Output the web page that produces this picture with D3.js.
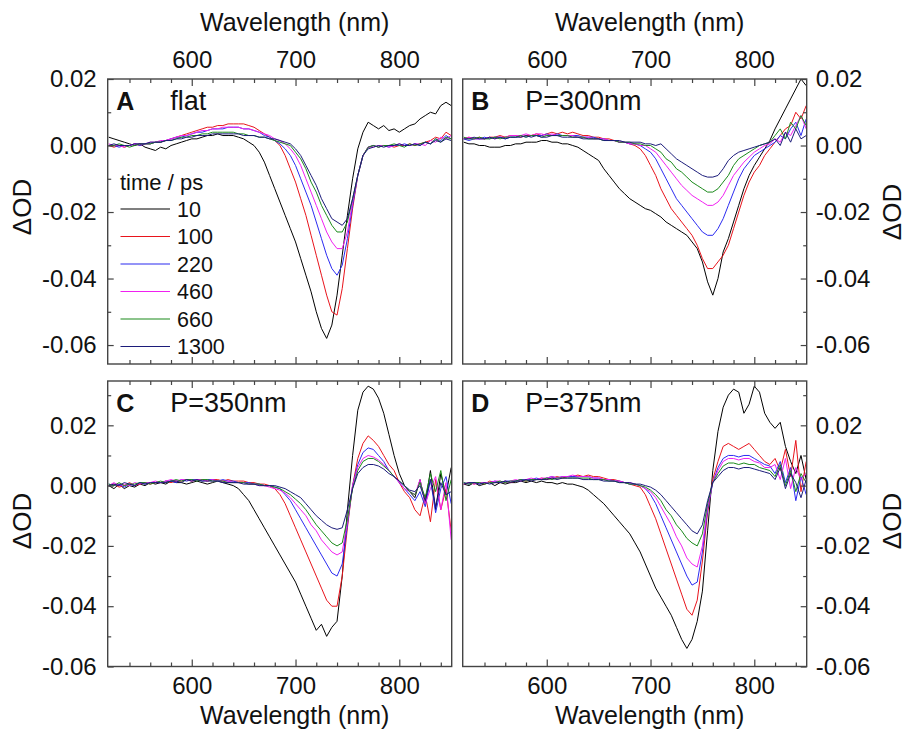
<!DOCTYPE html>
<html>
<head>
<meta charset="utf-8">
<script src="https://cdn.jsdelivr.net/npm/d3@7"></script>
<style>
body { margin: 0; background: #fff; }
text { font-family: Arial, "Liberation Sans", sans-serif; fill: #111; }
</style>
</head>
<body>
<div id="chart"></div>
<script>
// wavelength grid in nm; all spectra below are in mOD (1e-3 dOD)
var wavelengths = d3.range(520, 851, 5);
var times = ["10", "100", "220", "460", "660", "1300"];
var colors = ["#000000", "#e8141c", "#2b2bf0", "#f020f0", "#1b8a1b", "#1c1c7a"];
var xMajor = [600, 700, 800];
var xMinor = [540, 560, 580, 620, 640, 660, 680, 720, 740, 760, 780, 820, 840];
var yMajor = [-0.06, -0.04, -0.02, 0, 0.02];
var yMinor = [-0.05, -0.03, -0.01, 0.01, 0.03];

// A: flat
var flat_10 = [2.5,2,1.5,1,0.5,0,0.5,-0.5,-1,-1.5,
  -0.5,-1,0,0.5,1,1.5,2,2,2.5,3,
  3,3.5,3,3,3,2.5,2,1,0,-2,
  -5,-9,-13,-17,-21,-25,-29,-34,-39,-44,
  -50,-55,-58,-54,-45,-33,-21,-10,-1,4,
  7,6,5,6,4.5,5,4,5,6,6.5,
  8,9,10,9.5,12,13,12];
var flat_100 = [0,-0.5,0,-0.5,0,0.5,0,0.5,0.5,1,
  1,1.5,2,2.5,3,3.5,4,4.5,5,5.5,
  5.5,6,6,6.5,6.5,6.5,6.5,6,5.5,4.5,
  3.5,2.5,1.5,0,-3,-7,-11,-16,-21,-27,
  -33,-39,-45,-50,-51,-43,-31,-19,-9,-3,
  -0.5,0,-0.5,0,0,-0.5,0,0,0.5,0,
  0.5,1,1.5,2.5,2,4,3];
var flat_220 = [0,0,-0.5,0,0,0.5,0,0.5,0.5,1,
  1,1.5,2,2.5,2.5,3,3.5,4,4,4.5,
  5,5,5,5.5,5.5,5.5,5,5,4.5,4,
  3,2.5,1.5,0.5,-1,-3,-6,-10,-14,-18,
  -23,-28,-33,-37,-39,-36,-28,-18,-9,-3,
  -0.5,0,-0.5,0,-0.5,0,0,0.5,0,0.5,
  0,1,0.5,2,1.5,3,2];
var flat_460 = [0.5,0,0,-0.5,0,0.5,0.5,0.5,1,1,
  1.5,1.5,2,2.5,3,3,3.5,4,4.5,4.5,
  5,5,5.5,5.5,5.5,5.5,5,5,4.5,4,
  3.5,3,2,1.5,0.5,-1,-3,-6,-10,-14,
  -18,-22,-26,-29,-31,-31,-26,-17,-9,-3,
  -0.5,-0.5,0,0,-0.5,0,0.5,0,0,0.5,
  0.5,0,1.5,1,2.5,2,3];
var flat_660 = [0,0,0.5,0,-0.5,0,0.5,0.5,0.5,1,
  1,1.5,1.5,2,2.5,2.5,3,3,3.5,3.5,
  4,4,4,4,4,3.5,3.5,3,3,2.5,
  2.5,2,1.5,1,0.5,0,-2,-4,-7,-11,
  -14,-18,-21,-24,-26,-26,-23,-16,-9,-3,
  -0.5,0,-0.5,0,0,0.5,0,-0.5,0.5,0,
  0.5,1,0.5,2,1,2.5,2];
var flat_1300 = [0,0.5,0,0,0,0.5,0.5,0.5,1,1,
  1,1.5,1.5,2,2,2.5,2.5,3,3,3,
  3.5,3.5,3.5,3.5,3.5,3.5,3,3,3,2.5,
  2.5,2,2,1.5,1,0.5,-1,-3,-6,-9,
  -12,-16,-19,-22,-23,-24,-22,-16,-9,-3,
  -1,-0.5,0,-0.5,0,0,0.5,0,0,0.5,
  0,1,0.5,1.5,1,2,1.5];

// B: P=300nm
var p300_10 = [1,0.5,0.5,0,0,-0.5,-0.5,-0.5,0,0,
  0.5,0.5,1,1,1,1.5,1.5,1,1,0.5,
  0.5,0,-0.5,-1.5,-2.5,-3.5,-4.5,-7,-9,-11,
  -13,-14.5,-16,-17,-18,-19,-19.5,-20.5,-21.5,-23,
  -24,-25,-26,-27,-29,-31,-35,-41,-45,-40,
  -32,-28,-23,-18,-13,-9,-6,-3.5,-1,1.5,
  5,8,11,14,17,20,18];
var p300_100 = [2,2.5,2,2.5,2,2.5,2.5,3,2.5,3,
  3,2.5,3,3,3.5,3,3.5,4,3.5,4,
  3.5,4,3.5,3,3,2.5,2.5,2,2,1.5,
  1,1,0.5,0,-1,-3,-6,-9,-13,-16,
  -19,-21,-23,-25,-27,-30,-34,-37,-37,-35,
  -33,-30,-25,-20,-15,-11,-8,-6,-3,-1,
  1,3,5,6,10,8,12];
var p300_220 = [2,1.5,2,2,2.5,2,2.5,2.5,2,2.5,
  2.5,3,2.5,3,3,3,3.5,3,3.5,3,
  3,3,3,2.5,2.5,2.5,2,2,1.5,1.5,
  1,1,0.5,0.5,0,-1,-2,-4,-7,-10,
  -13,-16,-18,-20,-22,-24,-26,-27,-27,-25,
  -22,-18,-14,-10,-7,-5,-3,-2,-1,0,
  1,3,2,5,7,3,8];
var p300_460 = [2,2.5,2,2,2,2.5,2,2.5,2.5,3,
  3,3,3.5,3,3.5,3.5,3,3.5,3,3,
  3,3,2.5,2.5,2.5,2,2,2,1.5,1.5,
  1,1,0.5,0.5,0,0,-1,-2,-4,-6,
  -8,-10,-12,-13.5,-15,-16,-17,-18,-18,-17,
  -15,-12,-9,-7,-5,-3.5,-2,-1,0,0.5,
  2,1,4,3,6,9,5];
var p300_660 = [2.5,2,2,2.5,2,2,2.5,2,2.5,2.5,
  2.5,3,2.5,3,3,2.5,3,3,3,3,
  3,2.5,2.5,2.5,2,2,2,1.5,1.5,1.5,
  1,1,1,0.5,0.5,0,0,-1,-2,-4,
  -5,-7,-8,-9.5,-11,-12,-13,-14,-14,-13,
  -11,-9,-6,-4,-3,-2,-1,0,0.5,1,
  3,5,2,7,5,9,6];
var p300_1300 = [2,2,2.5,2,2,2.5,2,2.5,2,2.5,
  2.5,2.5,3,2.5,3,2.5,2.5,3,3,2.5,
  2.5,2.5,2.5,2,2,2,2,1.5,1.5,1.5,
  1.5,1,1,1,1,0.5,0.5,0,0.5,-1,
  -2.5,-4,-5,-6,-7,-8,-9,-9.5,-9.5,-9,
  -7,-4.5,-3,-2,-1.5,-1,-0.5,0,0.5,1,
  2,0,4,1,5,2,3];

// C: P=350nm
var p350_10 = [0,-1,0.5,-1,0,-0.5,0.5,0,1,0.5,
  1,0.5,1.5,1,1,0.5,1,1.5,1,0.5,
  1,1.5,1,0.5,0,-1,-3,-5,-8,-11,
  -14,-17,-20,-23,-26,-29,-32,-36,-40,-44,
  -48,-46,-50,-47,-45,-30,-8,10,25,31,
  33,32,29,24,17,10,4,0,-2,-4,
  2,-6,5,-8,4,-3,6];
var p350_100 = [0,0.5,-0.5,0,1,0,0.5,1,0.5,1,
  1,1.5,1,1.5,1.5,2,1.5,2,2,1.5,
  2,2,1.5,2,1.5,1.5,1.5,1,1,0.5,
  0.5,0,-1,-3,-6,-10,-14,-18,-22,-26,
  -30,-34,-38,-40,-40,-30,-14,0,9,14,
  16.5,15,13,10,7,5,1,-2,-4,-8,
  -10,-3,-12,2,-8,-1,-15];
var p350_220 = [0.5,0,0.5,-0.5,0.5,0,1,0.5,1,1,
  1,1.5,1.5,1,2,1.5,2,2,1.5,2,
  2,1.5,2,1.5,1.5,1,1,1,0.5,0.5,
  0,0,-0.5,-1,-3,-5,-8,-11,-14,-17,
  -20,-23,-26,-29,-30,-26,-13,0,7,11,
  12.5,12,10,8,5,3,1,-1,-3,-5,
  -2,-7,2,-9,-1,3,-6];
var p350_460 = [0,1,0,0.5,0,1,0.5,1,1,1.5,
  1,1.5,2,1.5,2,2,1.5,2,2,1.5,
  2,1.5,1.5,1.5,1,1,1,0.5,0.5,0,
  0,-0.5,-1,-1.5,-2.5,-4,-6,-8,-10,-13,
  -15,-18,-20,-22,-23,-22,-12,0,6,9,
  10,9.5,8.5,7,5,3,1,-1,-2,-3,
  2,-6,-1,3,-8,1,-18];
var p350_660 = [0.5,0,1,0,0.5,0.5,1,1,0.5,1,
  1.5,1,1.5,2,1.5,2,2,1.5,2,2,
  1.5,1.5,1.5,1,1,1,1,0.5,0.5,0.5,
  0,0,-0.5,-1,-2,-3,-4.5,-6,-8,-10.5,
  -13,-15,-17,-19,-20,-19,-11,-1,5,8,
  9,9,8,6.5,5,3,1.5,0,-2,-3,
  1,-4,4,-2,5,-5,2];
var p350_1300 = [0,0.5,0,1,0.5,0,1,0.5,1,1,
  1,1,1.5,1.5,1,2,1.5,2,1.5,1.5,
  1.5,1.5,1,1,1,1,0.5,0.5,0.5,0,
  0,0,0,-0.5,-1,-2,-3,-4,-6,-8,
  -10,-11.5,-13,-14,-14.5,-14,-8,-1,4,6,
  7,7,6.5,5.5,4,3,1.5,0,-1.5,-2,
  0,-5,2,-7,1,-3,-2];

// D: P=375nm
var p375_10 = [0.5,0,1,0,0.5,1,0,1,0.5,1,
  1,1.5,1,1.5,1,1.5,1,1,0.5,1,
  0.5,0.5,0,-0.5,-1.5,-3,-4.5,-6,-8,-10,
  -12,-14,-16,-19,-22,-26,-30,-34,-37,-40,
  -43,-47,-51,-54,-51,-45,-35,-15,5,18,
  26,30,32,31,24,27,33,31,24,21,
  19,21,13,8,4,10,2];
var p375_100 = [0.5,1,0.5,1,0.5,1.5,1,1,1.5,1,
  1.5,2,1.5,2,2,2.5,2,2.5,3,2.5,
  3,3,3.5,3,3.5,3,3,2.5,2,2,
  1.5,1,0.5,0,-0.5,-3,-7,-11,-16,-21,
  -26,-31,-36,-41,-43,-38,-25,-9,2,8,
  13,14,13,12,13,14,12,10,8,7,
  9,5,12,3,15,-2,8];
var p375_220 = [1,0.5,1,0.5,1,1,1.5,1,1.5,1.5,
  1.5,2,2,2,2.5,2,2.5,3,2.5,3,
  3,3,3,3,3,2.5,2.5,2,2,1.5,
  1.5,1,0.5,0.5,0,-1,-3,-6,-10,-14,
  -18,-22,-26,-30,-33,-32,-22,-8,1,6,
  9,10,10,9.5,10,10,9,8,7,6.5,
  4,8,1,6,-5,3,-3];
var p375_460 = [0.5,1,0.5,1,1,1,1.5,1.5,1,1.5,
  2,1.5,2,2.5,2,2.5,2.5,3,2.5,3,
  3,3.5,3,3,3,2.5,2.5,2,2,1.5,
  1.5,1,1,0.5,0,-1,-2,-4,-7,-10,
  -13,-17,-20,-24,-26,-27,-20,-7,1,5,
  8,9,9,8.5,9,9,8,7.5,6,6,
  7,2,9,-1,6,2,4];
var p375_660 = [1,0.5,1,1,0.5,1,1,1.5,1,1.5,
  1.5,2,1.5,2,2,2,2.5,2,2.5,2.5,
  2.5,2.5,2.5,2.5,2.5,2,2,2,1.5,1.5,
  1,1,0.5,0.5,0,-0.5,-1.5,-3,-5,-8,
  -10,-13,-15,-17.5,-19,-20,-16,-6,1,4,
  6.5,7.5,7.5,7,7.5,7,7,6,5.5,5,
  3,7,0,5,-2,4,1];
var p375_1300 = [0.5,1,1,0.5,1,0.5,1,1,1.5,1,
  1.5,1.5,2,1.5,2,2,2,2.5,2,2.5,
  2.5,2.5,2.5,2,2,2,2,1.5,1.5,1.5,
  1,1,1,0.5,0.5,0,-0.5,-1.5,-3,-5,
  -7,-9,-11,-13,-15,-16,-13,-5,1,3,
  5,6,6,5.5,6,6,5.5,5,4.5,4,
  2,6,-1,4,1,-4,2];

var panels = [
  {letter: "A", label: "flat", series: [flat_10, flat_100, flat_220, flat_460, flat_660, flat_1300],
   left: 107.7, right: 451.7, top: 79, bottom: 364, yDomain: [-0.0657, 0.02], ySide: "left", xSide: "top", odY: 207},
  {letter: "B", label: "P=300nm", series: [p300_10, p300_100, p300_220, p300_460, p300_660, p300_1300],
   left: 462.7, right: 806.7, top: 79, bottom: 364, yDomain: [-0.0657, 0.02], ySide: "right", xSide: "top", odY: 212},
  {letter: "C", label: "P=350nm", series: [p350_10, p350_100, p350_220, p350_460, p350_660, p350_1300],
   left: 107.7, right: 451.7, top: 381, bottom: 666.5, yDomain: [-0.06, 0.0347], ySide: "left", xSide: "bottom", odY: 521},
  {letter: "D", label: "P=375nm", series: [p375_10, p375_100, p375_220, p375_460, p375_660, p375_1300],
   left: 462.7, right: 806.7, top: 381, bottom: 666.5, yDomain: [-0.06, 0.0347], ySide: "right", xSide: "bottom", odY: 521}
];

var svg = d3.select("#chart").append("svg")
  .attr("width", 906).attr("height", 734)
  .attr("xmlns", "http://www.w3.org/2000/svg");

function styleAxis(g, fs) {
  g.attr("font-size", fs).attr("font-family", "Arial, 'Liberation Sans', sans-serif");
  g.select(".domain").remove();
  g.selectAll("line").attr("stroke", "#444").attr("stroke-width", 1.2);
  g.selectAll("text").attr("fill", "#111");
}

function drawPanel(p, idx) {
  var x = d3.scaleLinear().domain([519, 850.5]).range([p.left, p.right]);
  var y = d3.scaleLinear().domain(p.yDomain).range([p.bottom, p.top]);

  svg.append("clipPath").attr("id", "clip" + idx)
    .append("rect").attr("x", p.left).attr("y", p.top)
    .attr("width", p.right - p.left).attr("height", p.bottom - p.top);

  var line = d3.line()
    .x(function(d, i){ return x(wavelengths[i]); })
    .y(function(d){ return y(d / 1000); });

  var lines = svg.append("g").attr("clip-path", "url(#clip" + idx + ")");
  p.series.forEach(function(s, i){
    lines.append("path").datum(s)
      .attr("d", line)
      .attr("fill", "none")
      .attr("stroke", colors[i])
      .attr("stroke-width", 1)
      .attr("stroke-linejoin", "round");
  });

  // x ticks: inward on top and bottom, labels only on one side
  var fmt = function(d){ return d; };
  var topMaj = svg.append("g").attr("transform", "translate(0," + p.top + ")")
    .call(d3.axisTop(x).tickValues(xMajor).tickSize(-7).tickPadding(11)
      .tickFormat(p.xSide === "top" ? fmt : ""));
  styleAxis(topMaj, 24);
  var topMin = svg.append("g").attr("transform", "translate(0," + p.top + ")")
    .call(d3.axisTop(x).tickValues(xMinor).tickSize(-4).tickFormat(""));
  styleAxis(topMin, 24);
  var botMaj = svg.append("g").attr("transform", "translate(0," + p.bottom + ")")
    .call(d3.axisBottom(x).tickValues(xMajor).tickSize(-7).tickPadding(10.5)
      .tickFormat(p.xSide === "bottom" ? fmt : ""));
  styleAxis(botMaj, 24);
  var botMin = svg.append("g").attr("transform", "translate(0," + p.bottom + ")")
    .call(d3.axisBottom(x).tickValues(xMinor).tickSize(-4).tickFormat(""));
  styleAxis(botMin, 24);

  // y ticks on the labelled side only
  var yf = function(d){ return d.toFixed(2); };
  var yMin = yMinor.filter(function(v){ return v > p.yDomain[0] && v < p.yDomain[1]; });
  var yAxisMaj, yAxisMin, ax;
  if (p.ySide === "left") {
    ax = p.left;
    yAxisMaj = d3.axisLeft(y).tickValues(yMajor).tickSize(-6).tickPadding(11).tickFormat(yf);
    yAxisMin = d3.axisLeft(y).tickValues(yMin).tickSize(-3.5).tickFormat("");
  } else {
    ax = p.right;
    yAxisMaj = d3.axisRight(y).tickValues(yMajor).tickSize(-6).tickPadding(9).tickFormat(yf);
    yAxisMin = d3.axisRight(y).tickValues(yMin).tickSize(-3.5).tickFormat("");
  }
  styleAxis(svg.append("g").attr("transform", "translate(" + ax + ",0)").call(yAxisMaj), 24);
  styleAxis(svg.append("g").attr("transform", "translate(" + ax + ",0)").call(yAxisMin), 24);

  // frame
  svg.append("rect")
    .attr("x", p.left).attr("y", p.top)
    .attr("width", p.right - p.left).attr("height", p.bottom - p.top)
    .attr("fill", "none").attr("stroke", "#444").attr("stroke-width", 1.4);

  // panel letter and label
  svg.append("text").attr("x", p.left + 8.5).attr("y", p.top + 30.5)
    .attr("font-size", 25).attr("font-weight", "bold").text(p.letter);
  svg.append("text").attr("x", p.left + 62.5).attr("y", p.top + 30.5)
    .attr("font-size", 27).text(p.label);

  // dOD label
  var lx = p.ySide === "left" ? 22 : 892;
  svg.append("text")
    .attr("transform", "translate(" + lx + "," + p.odY + ") rotate(-90)")
    .attr("text-anchor", "middle").attr("dy", "0.35em")
    .attr("font-size", 26).text("\u0394OD");

  // wavelength title
  var ty = p.xSide === "top" ? 31 : 724;
  svg.append("text").attr("x", (p.left + p.right) / 2 + 15).attr("y", ty)
    .attr("text-anchor", "middle").attr("font-size", 25).text("Wavelength (nm)");
}

panels.forEach(drawPanel);

// legend inside panel A
svg.append("text").attr("x", 120).attr("y", 190).attr("font-size", 22).text("time / ps");
times.forEach(function(t, i){
  var ly = 209 + i * 27.5;
  svg.append("line").attr("x1", 120.5).attr("x2", 170).attr("y1", ly).attr("y2", ly)
    .attr("stroke", colors[i]).attr("stroke-width", 1.2);
  svg.append("text").attr("x", 177).attr("y", ly).attr("dy", "0.36em")
    .attr("font-size", 21.5).text(t);
});
</script>
</body>
</html>
